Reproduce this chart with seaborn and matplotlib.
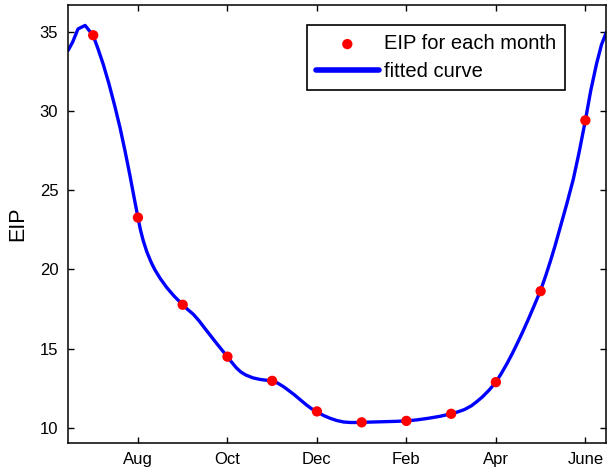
import matplotlib
matplotlib.use("Agg")
import matplotlib.pyplot as plt
import seaborn as sns

# ---- data (month index: Jul=1 ... Jun=12) ----
month_x = [1, 2, 3, 4, 5, 6, 7, 8, 9, 10, 11, 12]
eip_values = [34.8, 23.28, 17.77, 14.49, 12.96, 11.03, 10.34, 10.43, 10.88, 12.88, 18.63, 29.42]

# fitted curve
curve_x = [0.44, 0.54, 0.66, 0.82, 1.0, 1.1, 1.22, 1.35, 1.48, 1.6, 1.71, 1.82, 1.91,
           2.0, 2.06, 2.12, 2.2, 2.3, 2.38, 2.5, 2.64, 2.8,
           3.0, 3.1, 3.24, 3.37, 3.5, 3.63, 3.76, 3.88,
           4.0, 4.1, 4.2, 4.3, 4.41, 4.57, 4.73, 4.87,
           5.0, 5.12, 5.25, 5.37, 5.5, 5.63, 5.77, 5.88,
           6.0, 6.15, 6.3, 6.45, 6.6, 6.75, 6.9,
           7.0, 7.25, 7.5, 7.75, 8.0, 8.25, 8.5, 8.75,
           9.0, 9.15, 9.3, 9.45, 9.57, 9.7, 9.85,
           10.0, 10.12, 10.25, 10.36, 10.47, 10.6, 10.73, 10.86,
           11.0, 11.12, 11.22, 11.32, 11.45, 11.59, 11.73, 11.86,
           12.0, 12.12, 12.25, 12.36, 12.47]
curve_y = [33.85, 34.37, 35.2, 35.42, 34.77, 34.0, 33.0, 31.75, 30.35, 28.95, 27.5, 25.95, 24.6,
           23.28, 22.45, 21.8, 21.1, 20.42, 19.97, 19.42, 18.87, 18.34,
           17.77, 17.5, 17.16, 16.74, 16.26, 15.79, 15.32, 14.9,
           14.49, 14.12, 13.78, 13.52, 13.33, 13.15, 13.05, 13.0,
           12.96, 12.82, 12.6, 12.35, 12.07, 11.76, 11.43, 11.2,
           11.01, 10.77, 10.59, 10.45, 10.36, 10.33, 10.33,
           10.34, 10.36, 10.38, 10.4, 10.43, 10.5, 10.6, 10.72,
           10.88, 11.0, 11.15, 11.38, 11.64, 11.95, 12.38,
           12.88, 13.42, 14.06, 14.65, 15.28, 16.06, 16.88, 17.74,
           18.68, 19.66, 20.54, 21.47, 22.78, 24.2, 25.7, 27.4,
           29.42, 31.3, 33.0, 34.2, 35.0]

tick_pos = [2, 4, 6, 8, 10, 12]
tick_labels = ["Aug", "Oct", "Dec", "Feb", "Apr", "June"]
y_ticks = [10, 15, 20, 25, 30, 35]

sns.set_theme(style="ticks")
plt.rcParams['font.family'] = ['Liberation Sans', 'DejaVu Sans']
plt.rcParams['text.color'] = 'black'
plt.rcParams['axes.labelcolor'] = 'black'
plt.rcParams['xtick.direction'] = 'in'
plt.rcParams['ytick.direction'] = 'in'

fig = plt.figure(figsize=(6.07, 4.71), dpi=100)
ax = fig.add_axes([0.112, 0.060, 0.887, 0.929])

sns.lineplot(x=curve_x, y=curve_y, sort=False, color=(0, 0, 1), lw=2.4, ax=ax,
             label="fitted curve")
sns.scatterplot(x=month_x, y=eip_values, color=(1, 0, 0), s=55, edgecolor="none",
                ax=ax, zorder=3, label="EIP for each month")

ax.set_xlim(0.436, 12.47)
ax.set_ylim(9.05, 36.7)
ax.set_xticks(tick_pos)
ax.set_xticklabels(tick_labels)
ax.set_yticks(y_ticks)
ax.tick_params(axis='both', which='both', direction='in', length=4, width=1,
               top=True, right=True, labelsize=12, colors='black', pad=7)
for sp in ax.spines.values():
    sp.set_visible(True)
    sp.set_color('black')
    sp.set_linewidth(1.1)
ax.set_xlabel("")
ax.set_ylabel("EIP", fontsize=15.5, labelpad=8, color='black')

handles, labels = ax.get_legend_handles_labels()
order = [labels.index("EIP for each month"), labels.index("fitted curve")]
leg = ax.legend([handles[i] for i in order], [labels[i] for i in order],
                loc='upper left', bbox_to_anchor=(0.444, 0.954), borderaxespad=0,
                fontsize=14.5, frameon=True, fancybox=False, edgecolor='black',
                framealpha=1, handlelength=3.1, handletextpad=0.25,
                borderpad=0.45, labelspacing=0.42)
leg.get_frame().set_linewidth(1.2)
for t in leg.get_texts():
    t.set_color('black')
for lh in leg.legend_handles:
    try:
        lh.set_linewidth(4)
    except Exception:
        pass

fig.savefig("out.png", dpi=100)
